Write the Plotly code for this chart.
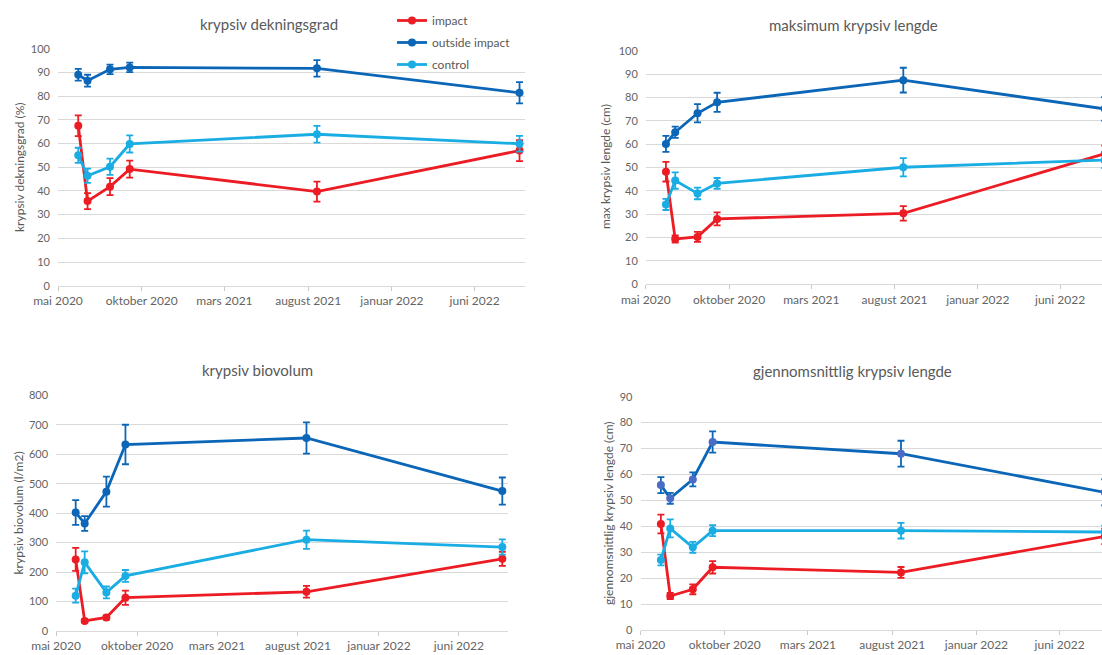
import plotly.graph_objects as go

# Sampling dates (shared by all four panels)
dates = ["2020-06-07", "2020-06-24", "2020-08-04", "2020-09-09", "2021-08-17", "2022-08-22"]

# Axis ticks (Norwegian month labels, every five months)
tick_dates = ["2020-05-01", "2020-10-01", "2021-03-01", "2021-08-01", "2022-01-01", "2022-06-01"]
tick_labels = ["mai 2020", "oktober 2020", "mars 2021", "august 2021", "januar 2022", "juni 2022"]

series_names = ["impact", "outside impact", "control"]

# krypsiv dekningsgrad (%)
dekning_impact = [67.5, 35.7, 41.8, 49.2, 39.7, 57.0]
dekning_impact_err = [4.4, 3.4, 3.6, 3.6, 4.2, 4.4]
dekning_outside = [89.0, 86.5, 91.3, 92.1, 91.7, 81.4]
dekning_outside_err = [2.5, 2.5, 2.0, 2.0, 3.5, 4.5]
dekning_control = [55.0, 46.4, 50.2, 59.8, 63.9, 59.9]
dekning_control_err = [3.2, 3.0, 3.4, 3.6, 3.5, 3.3]

# maksimum krypsiv lengde (cm)
maks_impact = [48.2, 19.4, 20.3, 28.0, 30.4, 55.9]
maks_impact_err = [4.2, 1.5, 2.1, 2.8, 3.1, 3.5]
maks_outside = [60.1, 65.1, 73.2, 77.9, 87.4, 75.1]
maks_outside_err = [3.4, 2.4, 3.9, 4.1, 5.3, 5.0]
maks_control = [34.2, 44.4, 38.9, 43.2, 50.1, 53.2]
maks_control_err = [2.4, 3.5, 2.5, 2.3, 3.9, 3.5]

# krypsiv biovolum (l/m2)
bio_impact = [243, 34, 46, 113, 133, 245]
bio_impact_err = [39, 5, 7, 24, 20, 24]
bio_outside = [402, 365, 473, 633, 655, 475]
bio_outside_err = [42, 25, 51, 67, 53, 46]
bio_control = [120, 233, 131, 187, 310, 285]
bio_control_err = [24, 37, 20, 20, 31, 26]

# gjennomsnittlig krypsiv lengde (cm)
snitt_impact = [40.9, 13.1, 15.7, 24.2, 22.2, 36.1]
snitt_impact_err = [3.6, 1.2, 1.9, 2.4, 2.1, 3.0]
snitt_outside = [55.9, 50.8, 58.1, 72.5, 68.0, 53.1]
snitt_outside_err = [3.1, 2.1, 2.7, 4.1, 5.0, 5.0]
snitt_control = [27.0, 39.2, 31.9, 38.3, 38.3, 37.8]
snitt_control_err = [2.1, 3.5, 2.1, 2.1, 3.0, 2.5]

COLORS = {"impact": "#EC1C24", "outside impact": "#0B66B8", "control": "#1AADE4"}
FONT = "Lato, 'Open Sans', sans-serif"
GRID = "#D9D9D9"
TXT = "#595959"
TICK_TXT = "#646464"

W, H = 1102, 655

panels = [
    dict(title="krypsiv dekningsgrad", ytitle="krypsiv dekningsgrad (%)",
         data=[(dekning_impact, dekning_impact_err), (dekning_outside, dekning_outside_err),
               (dekning_control, dekning_control_err)],
         yrange=[0, 100], dtick=10, xend="2022-09-01",
         xdom=[58 / W, 525 / W], ydom=[1 - 285.7 / H, 1 - 48.7 / H],
         title_xy=(269, 24), ytitle_xy=(19, 167)),
    dict(title="maksimum krypsiv lengde", ytitle="max krypsiv lengde (cm)",
         data=[(maks_impact, maks_impact_err), (maks_outside, maks_outside_err),
               (maks_control, maks_control_err)],
         yrange=[0, 100], dtick=10, xend="2022-08-17",
         xdom=[645.8 / W, 1.0], ydom=[1 - 284.3 / H, 1 - 50.7 / H],
         title_xy=(853, 25), ytitle_xy=(605, 167)),
    dict(title="krypsiv biovolum", ytitle="krypsiv biovolum (l/m2)",
         data=[(bio_impact, bio_impact_err), (bio_outside, bio_outside_err),
               (bio_control, bio_control_err)],
         yrange=[0, 800], dtick=100, xend="2022-09-01",
         xdom=[56.1 / W, 507.6 / W], ydom=[1 - 631 / H, 1 - 395.3 / H],
         title_xy=(257, 370), ytitle_xy=(17.5, 513)),
    dict(title="gjennomsnittlig krypsiv lengde", ytitle="gjennomsnittlig krypsiv lengde (cm)",
         data=[(snitt_impact, snitt_impact_err), (snitt_outside, snitt_outside_err),
               (snitt_control, snitt_control_err)],
         yrange=[0, 90], dtick=10, xend="2022-08-17",
         xdom=[640.5 / W, 1.0], ydom=[1 - 630 / H, 1 - 396.7 / H],
         title_xy=(852, 371), ytitle_xy=(608, 513)),
]

fig = go.Figure()
layout = {}
annotations = []

for i, p in enumerate(panels):
    n = "" if i == 0 else str(i + 1)
    xref, yref = "x" + n, "y" + n
    for name, (vals, errs) in zip(series_names, p["data"]):
        col = COLORS[name]
        marker_col = col
        if i == 3 and name == "outside impact":
            marker_col = "#4A6CC4"
        fig.add_trace(go.Scatter(
            x=dates, y=vals, name=name, mode="lines+markers",
            xaxis=xref, yaxis=yref,
            line=dict(color=col, width=2.8),
            marker=dict(color=marker_col, size=8, symbol="circle"),
            error_y=dict(type="data", array=errs, visible=True,
                         color=col, thickness=1.8, width=3.5),
            legendgroup=name, showlegend=(i == 0),
        ))
    layout["xaxis" + n] = dict(
        domain=p["xdom"], anchor=yref, type="date",
        range=["2020-05-01", p["xend"]],
        tickmode="array", tickvals=tick_dates, ticktext=tick_labels,
        showgrid=False, showline=True, linecolor=GRID, linewidth=1,
        ticks="outside", ticklen=4, tickcolor="#C8C8C8",
        tickfont=dict(family=FONT, size=12, color=TICK_TXT),
        zeroline=False, fixedrange=True, automargin=False,
    )
    layout["yaxis" + n] = dict(
        domain=p["ydom"], anchor=xref, range=p["yrange"], dtick=p["dtick"],
        showgrid=True, gridcolor=GRID, gridwidth=1,
        showline=False, zeroline=False, ticks="",
        ticklabelstandoff=7,
        tickfont=dict(family=FONT, size=11, color=TICK_TXT),
        fixedrange=True, automargin=False,
    )
    tx, ty = p["title_xy"]
    annotations.append(dict(
        text=p["title"], x=tx / W, y=1 - ty / H, xref="paper", yref="paper",
        xanchor="center", yanchor="middle", showarrow=False,
        font=dict(family=FONT, size=15, color=TXT),
    ))
    ax, ay = p["ytitle_xy"]
    annotations.append(dict(
        text=p["ytitle"], x=ax / W, y=1 - ay / H, xref="paper", yref="paper",
        xanchor="center", yanchor="middle", textangle=-90, showarrow=False,
        font=dict(family=FONT, size=12, color=TXT),
    ))

fig.update_layout(
    width=W, height=H,
    margin=dict(l=0, r=0, t=0, b=0, autoexpand=False),
    paper_bgcolor="white", plot_bgcolor="white",
    annotations=annotations,
    legend=dict(
        x=392 / W, y=1 - 6 / H, xanchor="left", yanchor="top",
        bgcolor="rgba(0,0,0,0)", borderwidth=0,
        font=dict(family=FONT, size=12, color=TXT),
        traceorder="grouped", tracegroupgap=3, itemwidth=30,
    ),
    **layout,
)

fig.write_html("out.html", config={"displayModeBar": False})
